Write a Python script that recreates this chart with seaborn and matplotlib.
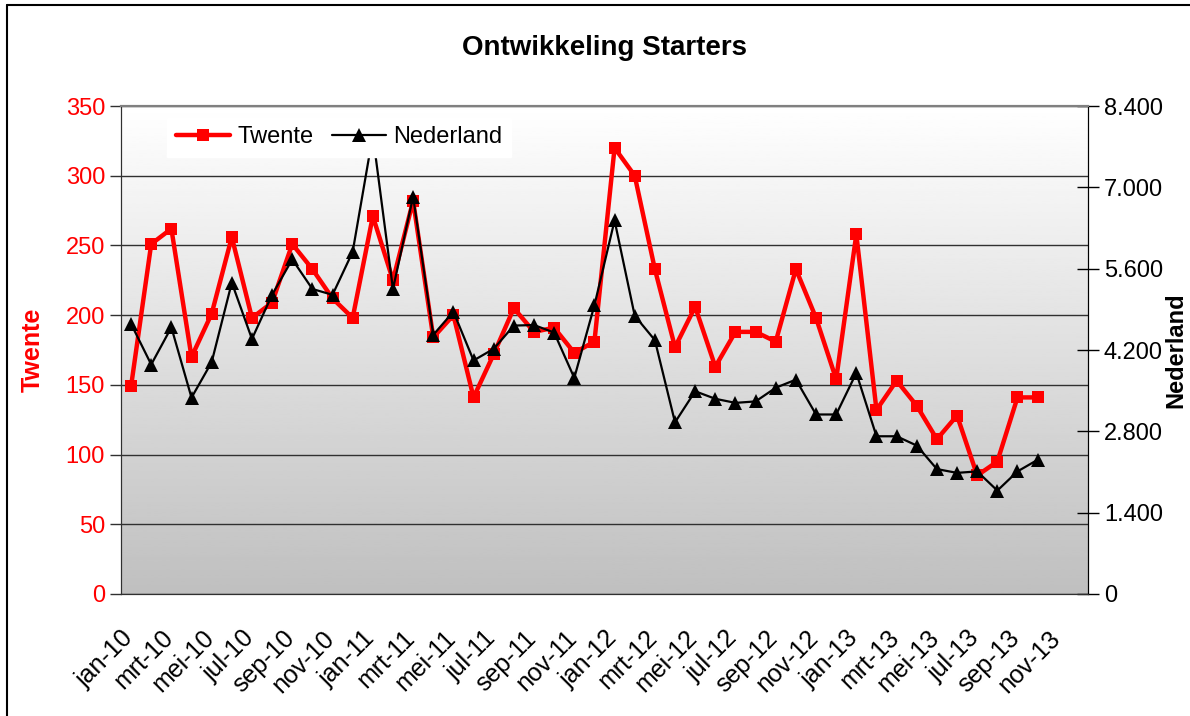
import numpy as np
import pandas as pd
import seaborn as sns
import matplotlib.pyplot as plt
import matplotlib.transforms as mtransforms
from matplotlib.ticker import FixedLocator, FuncFormatter, MultipleLocator
from matplotlib.lines import Line2D

# maanden jan-10 t/m dec-13 (48 categorieen, data t/m okt-13)
month_names = ['jan', 'feb', 'mrt', 'apr', 'mei', 'jun',
               'jul', 'aug', 'sep', 'okt', 'nov', 'dec']
months = [f'{m}-{y}' for y in ['10', '11', '12', '13'] for m in month_names]

twente = [149, 251, 262, 170, 201, 256, 198, 209, 251, 233, 212, 198,
          271, 225, 282, 184, 200, 141, 172, 205, 188, 191, 173, 181,
          320, 300, 233, 177, 206, 163, 188, 188, 181, 233, 198, 154,
          258, 132, 153, 135, 111, 128, 85, 95, 141, 141]

nederland = [4650, 3950, 4590, 3380, 3990, 5360, 4390, 5150, 5760, 5250, 5150, 5890,
             7900, 5250, 6840, 4460, 4860, 4020, 4220, 4620, 4630, 4500, 3720, 4970,
             6430, 4790, 4370, 2955, 3490, 3360, 3290, 3315, 3550, 3690, 3090, 3090,
             3805, 2715, 2715, 2555, 2150, 2085, 2110, 1780, 2110, 2310]

df = pd.DataFrame({'maand': months[:len(twente)], 'Twente': twente, 'Nederland': nederland})
df['pos'] = np.arange(len(df))

sns.set_style('white', {'text.color': 'black', 'axes.labelcolor': 'black',
                        'xtick.color': 'black', 'ytick.color': 'black'})
plt.rcParams['font.family'] = ['Liberation Sans', 'DejaVu Sans']

fig = plt.figure(figsize=(11.9, 7.16), dpi=100)
ax = fig.add_axes([121 / 1190, 1 - 594 / 716, 967 / 1190, 488 / 716])
ax2 = ax.twinx()

# achtergrond met verloop wit -> grijs
grad = np.linspace(0.75, 1.0, 256).reshape(-1, 1)
ax.imshow(grad, extent=[0, 1, 0, 1], transform=ax.transAxes, aspect='auto',
          cmap='gray', vmin=0, vmax=1, origin='lower', zorder=0)

sns.lineplot(data=df, x='pos', y='Twente', ax=ax, color='#ff0000', linewidth=3.2,
             marker='s', markersize=9, markeredgewidth=0, label='Twente', legend=False, zorder=3)
sns.lineplot(data=df, x='pos', y='Nederland', ax=ax2, color='black', linewidth=1.6,
             marker='^', markersize=10, markeredgewidth=0, label='Nederland', legend=False, zorder=3)

n_cat = len(months)
ax.set_xlim(-0.5, n_cat - 0.5)
ax.set_ylim(0, 350)
ax2.set_ylim(0, 8400)

ax.yaxis.set_major_locator(MultipleLocator(50))
ax2.yaxis.set_major_locator(MultipleLocator(1400))
ax2.yaxis.set_major_formatter(FuncFormatter(lambda v, p: f'{int(v):,}'.replace(',', '.')))

tick_pos = np.arange(-0.5, n_cat, 2)
ax.xaxis.set_major_locator(FixedLocator(tick_pos))
ax.set_xticklabels([months[int(p + 0.5)] if p < n_cat - 1 else '' for p in tick_pos],
                   rotation=45, ha='right', rotation_mode='anchor', fontsize=18)
shift = mtransforms.ScaledTranslation(-6 / 100, 0, fig.dpi_scale_trans)
for lbl in ax.get_xticklabels():
    lbl.set_transform(lbl.get_transform() + shift)

ax.grid(axis='y', color='#303030', linewidth=1.0)
ax.set_axisbelow(False)
for gl in ax.get_ygridlines():
    gl.set_zorder(1)

ax.tick_params(axis='y', labelcolor='#ff0000', labelsize=17, direction='out', length=8, width=1, color='#303030')
ax.tick_params(axis='x', labelcolor='black', direction='out', length=8, width=1,
               color='#303030', pad=15)
ax2.tick_params(axis='y', labelsize=17, labelcolor='black', direction='inout', length=16, width=1, color='black')

ax.set_xlabel('')
ax.set_ylabel('Twente', color='#ff0000', fontsize=18, fontweight='bold', labelpad=15)
ax2.set_ylabel('Nederland', color='black', fontsize=17, fontweight='bold', labelpad=1)

for a in (ax, ax2):
    a.spines['top'].set_color('#808080')
    a.spines['top'].set_linewidth(1.5)
    a.spines['left'].set_color('#303030')
    a.spines['bottom'].set_color('#303030')
    a.spines['right'].set_color('black')

ax.set_title('Ontwikkeling Starters', fontsize=20, fontweight='bold', color='black', pad=37)

handles = [Line2D([], [], color='#ff0000', linewidth=3.2, marker='s', markersize=9, markeredgewidth=0),
           Line2D([], [], color='black', linewidth=1.6, marker='^', markersize=10, markeredgewidth=0)]
leg = ax2.legend(handles, ['Twente', 'Nederland'], loc='upper left', bbox_to_anchor=(0.048, 0.975),
                 ncol=2, fontsize=17, frameon=True, fancybox=False, handlelength=2.3,
                 handletextpad=0.3, columnspacing=0.8, borderpad=0.35, borderaxespad=0)
leg.get_frame().set_facecolor('white')
leg.get_frame().set_edgecolor('white')
leg.get_frame().set_alpha(1)
leg.set_zorder(10)
for t in leg.get_texts():
    t.set_color('black')

# rand om de grafiek
fig.add_artist(Line2D([7 / 1190, 7 / 1190], [0, 1 - 5 / 716], transform=fig.transFigure,
                      color='black', linewidth=1.5))
fig.add_artist(Line2D([7 / 1190, 1], [1 - 5 / 716, 1 - 5 / 716], transform=fig.transFigure,
                      color='black', linewidth=1.5))

fig.savefig('out.png', dpi=100)
